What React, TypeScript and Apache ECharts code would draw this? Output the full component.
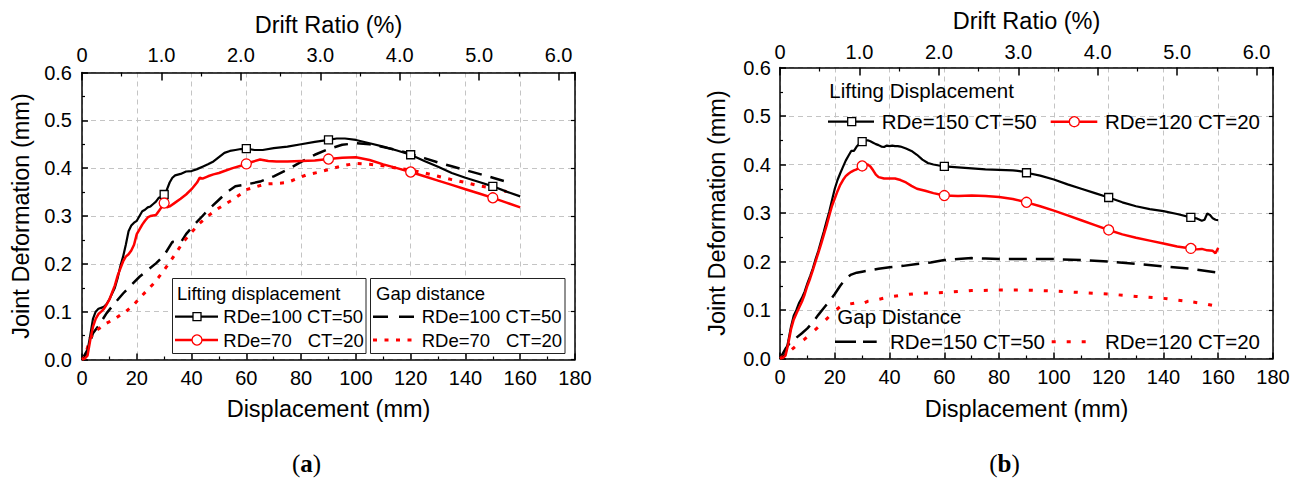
import React, { useEffect, useRef } from "react";
import * as echarts from "echarts";

const FONT = '"Liberation Sans", Arial, Helvetica, sans-serif';
const SERIF = '"Liberation Serif", "Times New Roman", serif';

// ---------- shared axis values ----------
const dispTicks = { min: 0, max: 180, interval: 20 };
const driftMax = 180 / 29; // 1 % drift = 29 mm
const deformTicks = { min: 0, max: 0.6, interval: 0.1 };
const markerX = [30, 60, 90, 120, 150];

// ---------- panel (a) ----------
const aLiftRDe100: number[][] = [
  [0, 0], [1, 0.004], [2, 0.018], [3, 0.05], [4, 0.085], [5, 0.1], [6, 0.106], [7, 0.108], [8, 0.11],
  [9, 0.116], [10, 0.126], [11, 0.138], [12, 0.15], [13, 0.17], [14, 0.195], [15, 0.215], [16, 0.24],
  [17, 0.268], [18, 0.28], [19, 0.286], [20, 0.29], [21, 0.3], [22, 0.31], [23, 0.313], [24, 0.318],
  [25, 0.32], [26, 0.325], [27, 0.33], [28, 0.338], [29, 0.34], [30, 0.345], [31, 0.355], [32, 0.37],
  [33, 0.38], [34, 0.385], [36, 0.388], [38, 0.393], [40, 0.394], [42, 0.398], [44, 0.403], [46, 0.408],
  [48, 0.414], [50, 0.423], [52, 0.432], [54, 0.436], [56, 0.438], [58, 0.44], [60, 0.441], [63, 0.438],
  [66, 0.438], [70, 0.442], [75, 0.445], [80, 0.45], [85, 0.455], [90, 0.459], [93, 0.462], [96, 0.462],
  [100, 0.459], [105, 0.452], [110, 0.445], [115, 0.437], [120, 0.428], [125, 0.415], [130, 0.403],
  [135, 0.39], [140, 0.38], [145, 0.371], [150, 0.362], [155, 0.351], [160, 0.341],
];
const aLiftRDe70: number[][] = [
  [0, 0], [1, 0.002], [2, 0.008], [3, 0.04], [4, 0.068], [5, 0.085], [6, 0.095], [7, 0.1], [8, 0.106],
  [9, 0.115], [10, 0.125], [11, 0.14], [12, 0.155], [13, 0.175], [14, 0.19], [15, 0.205], [16, 0.215],
  [17, 0.22], [18, 0.228], [19, 0.24], [20, 0.262], [21, 0.272], [22, 0.282], [23, 0.29], [24, 0.297],
  [25, 0.3], [26, 0.301], [27, 0.302], [28, 0.31], [29, 0.318], [30, 0.327], [31, 0.318], [32, 0.32],
  [34, 0.328], [36, 0.336], [38, 0.345], [40, 0.356], [42, 0.37], [43, 0.38], [44, 0.378], [46, 0.383],
  [48, 0.387], [50, 0.39], [52, 0.394], [55, 0.4], [58, 0.405], [60, 0.409], [62, 0.413], [65, 0.418],
  [68, 0.415], [71, 0.414], [75, 0.414], [80, 0.415], [85, 0.416], [90, 0.419], [95, 0.422], [100, 0.423],
  [105, 0.417], [110, 0.408], [115, 0.4], [120, 0.392], [125, 0.383], [130, 0.374], [135, 0.365],
  [140, 0.356], [145, 0.347], [150, 0.338], [155, 0.328], [160, 0.318],
];
const aGapRDe100: number[][] = [
  [0, 0], [2, 0.02], [4, 0.055], [6, 0.07], [9, 0.097], [12, 0.118], [15, 0.138], [18, 0.156],
  [21, 0.173], [24, 0.187], [27, 0.201], [30, 0.218], [33, 0.246], [36, 0.244], [38, 0.262], [41, 0.282],
  [44, 0.3], [47, 0.318], [50, 0.334], [53, 0.35], [56, 0.362], [60, 0.366], [65, 0.372], [70, 0.383],
  [75, 0.397], [80, 0.413], [85, 0.428], [90, 0.44], [95, 0.449], [100, 0.452], [105, 0.45], [110, 0.444],
  [115, 0.438], [120, 0.43], [125, 0.421], [130, 0.412], [135, 0.404], [140, 0.396], [145, 0.388],
  [150, 0.38], [156, 0.37],
];
const aGapRDe70: number[][] = [
  [0, 0], [1, 0.005], [3, 0.045], [5, 0.06], [7, 0.068], [9, 0.076], [12, 0.085], [14, 0.093], [16, 0.1],
  [19, 0.115], [21, 0.128], [24, 0.146], [26, 0.158], [28, 0.172], [31, 0.195], [34, 0.22], [37, 0.246],
  [40, 0.266], [43, 0.285], [46, 0.3], [49, 0.313], [52, 0.324], [55, 0.334], [58, 0.346], [60, 0.355],
  [64, 0.362], [67, 0.367], [71, 0.368], [75, 0.37], [78, 0.377], [82, 0.386], [86, 0.391], [90, 0.397],
  [95, 0.405], [100, 0.41], [105, 0.408], [110, 0.405], [115, 0.4], [120, 0.396], [125, 0.39],
  [130, 0.383], [135, 0.376], [140, 0.37], [145, 0.363], [150, 0.358], [155, 0.351],
];

// ---------- panel (b) ----------
const bLiftRDe150: number[][] = [
  [0, 0], [1, 0.002], [2, 0.01], [3, 0.035], [4, 0.065], [5, 0.088], [6, 0.1], [7, 0.115], [8, 0.125],
  [9, 0.138], [10, 0.155], [11, 0.17], [12, 0.186], [13, 0.205], [14, 0.222], [15, 0.242], [16, 0.262],
  [17, 0.283], [18, 0.303], [19, 0.327], [20, 0.35], [21, 0.368], [22, 0.382], [23, 0.395], [24, 0.408],
  [25, 0.418], [26, 0.428], [27, 0.428], [28, 0.437], [29, 0.443], [30, 0.447], [31, 0.449], [32, 0.45],
  [33, 0.448], [34, 0.445], [35, 0.442], [36, 0.44], [37, 0.437], [38, 0.436], [39, 0.439], [40, 0.438],
  [41, 0.439], [42, 0.438], [43, 0.438], [44, 0.437], [46, 0.433], [48, 0.428], [50, 0.42], [52, 0.41],
  [54, 0.403], [56, 0.4], [58, 0.398], [60, 0.396], [65, 0.394], [70, 0.392], [75, 0.39], [80, 0.389],
  [85, 0.388], [88, 0.386], [90, 0.383], [95, 0.377], [100, 0.369], [105, 0.359], [110, 0.35], [115, 0.341],
  [120, 0.332], [125, 0.322], [130, 0.314], [135, 0.308], [140, 0.304], [145, 0.298], [150, 0.291],
  [152, 0.289], [154, 0.284], [155, 0.286], [156, 0.299], [157, 0.296], [158, 0.289], [159, 0.286], [160, 0.285],
];
const bLiftRDe120: number[][] = [
  [0, 0], [1, 0.001], [2, 0.006], [3, 0.03], [4, 0.06], [5, 0.08], [6, 0.093], [7, 0.105], [8, 0.117],
  [9, 0.132], [10, 0.15], [11, 0.165], [12, 0.182], [13, 0.2], [14, 0.218], [15, 0.236], [16, 0.255],
  [17, 0.274], [18, 0.295], [19, 0.315], [20, 0.33], [21, 0.345], [22, 0.358], [23, 0.368], [24, 0.376],
  [25, 0.381], [26, 0.385], [27, 0.388], [28, 0.39], [29, 0.394], [30, 0.397], [31, 0.398], [32, 0.4],
  [33, 0.396], [34, 0.388], [35, 0.379], [36, 0.374], [38, 0.371], [40, 0.371], [42, 0.371], [44, 0.368],
  [46, 0.363], [48, 0.356], [50, 0.35], [53, 0.346], [56, 0.341], [60, 0.336], [65, 0.335], [70, 0.336],
  [75, 0.335], [80, 0.333], [85, 0.329], [90, 0.322], [95, 0.314], [100, 0.305], [105, 0.295], [110, 0.285],
  [115, 0.275], [120, 0.265], [125, 0.256], [130, 0.249], [135, 0.243], [140, 0.237], [145, 0.231],
  [150, 0.227], [152, 0.225], [154, 0.226], [156, 0.223], [158, 0.222], [159, 0.217], [160, 0.228],
];
const bGapRDe150: number[][] = [
  [0, 0], [2, 0.02], [4, 0.035], [6, 0.043], [8, 0.052], [10, 0.062], [12, 0.075], [14, 0.09], [16, 0.104],
  [18, 0.118], [20, 0.133], [22, 0.15], [24, 0.165], [26, 0.173], [28, 0.177], [30, 0.179], [33, 0.182],
  [36, 0.185], [40, 0.188], [45, 0.191], [50, 0.195], [55, 0.198], [60, 0.203], [65, 0.205], [70, 0.207],
  [75, 0.206], [80, 0.205], [90, 0.205], [100, 0.205], [110, 0.203], [120, 0.2], [130, 0.195], [140, 0.19],
  [150, 0.185], [160, 0.177],
];
const bGapRDe120: number[][] = [
  [0, 0], [3, 0.012], [6, 0.027], [9, 0.04], [12, 0.055], [15, 0.07], [18, 0.087], [20, 0.098], [22, 0.107],
  [25, 0.112], [28, 0.115], [30, 0.113], [32, 0.118], [36, 0.122], [40, 0.127], [45, 0.131], [50, 0.134],
  [55, 0.135], [60, 0.136], [70, 0.14], [80, 0.141], [90, 0.141], [100, 0.139], [110, 0.136], [120, 0.133],
  [130, 0.128], [140, 0.124], [150, 0.117], [155, 0.113], [160, 0.107],
];

// ---------- styling helpers ----------
const AX = "#000";
const GRID = "#c4c4c4";
const TICK_FS = 20;
const TITLE_FS = 23.5;

function bottomAxis(gridIndex: number, nameGap: number) {
  return {
    type: "value", gridIndex, position: "bottom", ...dispTicks,
    axisLine: { show: true, onZero: false, lineStyle: { color: AX, width: 1.5 } },
    axisTick: { show: true, inside: true, length: 6, lineStyle: { color: AX, width: 1.5 } },
    minorTick: { show: true, splitNumber: 2, length: 3, lineStyle: { color: AX, width: 1.2 } },
    axisLabel: { margin: 8, fontSize: TICK_FS, color: "#000", fontFamily: FONT },
    splitLine: { show: true, lineStyle: { color: GRID, type: [5, 4], width: 1 } },
    name: "Displacement (mm)", nameLocation: "middle", nameGap, nameMoveOverlap: false,
    nameTextStyle: { fontSize: TITLE_FS, color: "#000", fontFamily: FONT },
  };
}
function topAxis(gridIndex: number, nameGap: number, margin: number) {
  return {
    type: "value", gridIndex, position: "top", min: 0, max: driftMax, interval: 1,
    axisLine: { show: true, onZero: false, lineStyle: { color: AX, width: 1.5 } },
    axisTick: { show: true, inside: true, length: 8, lineStyle: { color: AX, width: 1.5 } },
    minorTick: { show: true, splitNumber: 2, length: 4, lineStyle: { color: AX, width: 1.2 } },
    axisLabel: {
      margin, fontSize: TICK_FS, color: "#000", fontFamily: FONT,
      formatter: (v: number) => (Math.abs(v - Math.round(v)) > 1e-6 ? "" : v === 0 ? "0" : v.toFixed(1)),
    },
    splitLine: { show: false },
    name: "Drift Ratio (%)", nameLocation: "middle", nameGap, nameMoveOverlap: false,
    nameTextStyle: { fontSize: TITLE_FS, color: "#000", fontFamily: FONT },
  };
}
function leftAxis(gridIndex: number, nameGap: number, margin: number) {
  return {
    type: "value", gridIndex, position: "left", ...deformTicks,
    axisLine: { show: true, onZero: false, lineStyle: { color: AX, width: 1.5 } },
    axisTick: { show: true, inside: true, length: 6, lineStyle: { color: AX, width: 1.5 } },
    minorTick: { show: true, splitNumber: 2, length: 3, lineStyle: { color: AX, width: 1.2 } },
    axisLabel: { margin, fontSize: TICK_FS, color: "#000", fontFamily: FONT, formatter: (v: number) => v.toFixed(1) },
    splitLine: { show: true, lineStyle: { color: GRID, type: [5, 4], width: 1 } },
    name: "Joint Deformation (mm)", nameLocation: "middle", nameGap, nameRotate: 90, nameMoveOverlap: false,
    nameTextStyle: { fontSize: TITLE_FS, color: "#000", fontFamily: FONT },
  };
}
function rightAxis(gridIndex: number) {
  return {
    type: "value", gridIndex, position: "right", ...deformTicks,
    axisLine: { show: true, onZero: false, lineStyle: { color: AX, width: 1.5 } },
    axisTick: { show: true, inside: true, length: 4, lineStyle: { color: AX, width: 1.2 } },
    axisLabel: { show: false },
    splitLine: { show: false },
  };
}

const markerSize = (size: number) => (v: number[]) => (markerX.includes(v[0]) ? size : 0);

function liftSeries(data: number[][], xi: number, yi: number, color: string, symbol: string, size: number, width: number) {
  return {
    type: "line", xAxisIndex: xi, yAxisIndex: yi, data,
    symbol, symbolSize: markerSize(size), showSymbol: true,
    lineStyle: { color, width, type: "solid" },
    itemStyle: { color: "#fff", borderColor: color, borderWidth: 1.3 },
    z: 3,
  };
}
function gapSeries(data: number[][], xi: number, yi: number, color: string, dash: number[], width: number) {
  return {
    type: "line", xAxisIndex: xi, yAxisIndex: yi, data, symbol: "none", showSymbol: false,
    lineStyle: { color, width, type: dash, cap: "butt" },
    z: 2,
  };
}

function txt(text: string, x: number, y: number, fs: number) {
  return {
    type: "text", x, y, z: 100,
    style: { text, fill: "#000", fontSize: fs, fontFamily: FONT, align: "left", textAlign: "left", verticalAlign: "middle", textVerticalAlign: "middle" },
  };
}
function seg(x1: number, x2: number, y: number, color: string, width: number, dash?: number[]) {
  return {
    type: "line", z: 100,
    shape: { x1, y1: y, x2, y2: y },
    style: { stroke: color, lineWidth: width, lineDash: dash || null, lineCap: "butt" },
  };
}
function sq(cx: number, cy: number, s: number) {
  return { type: "rect", z: 101, shape: { x: cx - s / 2, y: cy - s / 2, width: s, height: s }, style: { fill: "#fff", stroke: "#000", lineWidth: 1.3 } };
}
function circ(cx: number, cy: number, r: number) {
  return { type: "circle", z: 101, shape: { cx, cy, r }, style: { fill: "#fff", stroke: "#ff0000", lineWidth: 1.3 } };
}
function caption(letter: string, x: number, y: number) {
  return {
    type: "text", x, y, z: 100,
    style: {
      text: `{p|(}{b|${letter}}{p|)}`, align: "center", textAlign: "center", verticalAlign: "middle", textVerticalAlign: "middle",
      rich: {
        p: { fontSize: 25, fontFamily: SERIF, fill: "#000", color: "#000" },
        b: { fontSize: 25, fontFamily: SERIF, fontWeight: "bold", fill: "#000", color: "#000" },
      },
    },
  };
}

const RED = "#ff0000";
const DASH_A = [14, 9];
const DOT_A = [4, 7.5];
const DASH_B = [18, 9];
const DOT_B = [4, 11];

const option: any = {
  animation: false,
  backgroundColor: "#fff",
  grid: [
    { left: 82, top: 72.5, width: 493, height: 287, outerBoundsMode: "none", containLabel: false },
    { left: 780, top: 67.5, width: 493, height: 291, outerBoundsMode: "none", containLabel: false },
  ],
  xAxis: [bottomAxis(0, 37), topAxis(0, 36, 8), bottomAxis(1, 38), topAxis(1, 35, 6)],
  yAxis: [leftAxis(0, 49, 10), rightAxis(0), leftAxis(1, 51, 9), rightAxis(1)],
  series: [
    gapSeries(aGapRDe100, 0, 0, "#000", DASH_A, 2.5),
    gapSeries(aGapRDe70, 0, 0, RED, DOT_A, 3),
    liftSeries(aLiftRDe100, 0, 0, "#000", "rect", 8, 2.2),
    liftSeries(aLiftRDe70, 0, 0, RED, "circle", 10, 2.5),
    gapSeries(bGapRDe150, 2, 2, "#000", DASH_B, 2.5),
    gapSeries(bGapRDe120, 2, 2, RED, DOT_B, 3),
    liftSeries(bLiftRDe150, 2, 2, "#000", "rect", 8, 2.2),
    liftSeries(bLiftRDe120, 2, 2, RED, "circle", 10, 2.5),
  ],
  graphic: [
    // panel (a) legend boxes
    { type: "rect", z: 99, shape: { x: 172.5, y: 278.5, width: 193.5, height: 75 }, style: { fill: "#fff", stroke: "#222", lineWidth: 1 } },
    { type: "rect", z: 99, shape: { x: 370.5, y: 278.5, width: 194.5, height: 75 }, style: { fill: "#fff", stroke: "#222", lineWidth: 1 } },
    txt("Lifting displacement", 177, 293, 18.5),
    seg(175, 218, 316.7, "#000", 2.2), sq(197, 316.7, 8), txt("RDe=100 CT=50", 223.3, 316.7, 18.5),
    seg(175, 218, 340, RED, 2.5), circ(197, 340, 5), txt("RDe=70", 223.3, 340, 18.5), txt("CT=20", 307.7, 340, 18.5),
    txt("Gap distance", 376, 293, 18.5),
    seg(373, 415, 316.7, "#000", 2.5, [15, 11]), txt("RDe=100 CT=50", 421.7, 316.7, 18.5),
    seg(373, 415, 340, RED, 3, DOT_A), txt("RDe=70", 421.7, 340, 18.5), txt("CT=20", 506, 340, 18.5),
    // panel (b) legends
    txt("Lifting Displacement", 829.3, 90.7, 20.5),
    seg(828, 874, 121.7, "#000", 2.2), sq(851.7, 121.7, 8), txt("RDe=150 CT=50", 881.7, 121.7, 20.5),
    seg(1050.7, 1097.3, 121.7, RED, 2.5), circ(1074.3, 121.7, 5), txt("RDe=120 CT=20", 1105, 121.7, 20.5),
    txt("Gap Distance", 837.3, 316.7, 20.5),
    seg(835, 876.7, 341.7, "#000", 2.5, [21, 7]), txt("RDe=150 CT=50", 890, 341.7, 20.5),
    seg(1051.7, 1093.3, 341.7, RED, 3, DOT_B), txt("RDe=120 CT=20", 1105, 341.7, 20.5),
    // captions
    caption("a", 306.5, 463),
    caption("b", 1004.5, 463),
  ],
};

export default function App() {
  const ref = useRef<HTMLDivElement>(null);
  useEffect(() => {
    const chart = echarts.init(ref.current as HTMLDivElement, null, { renderer: "svg", width: 1304, height: 479 });
    chart.setOption(option);
    return () => chart.dispose();
  }, []);
  return (
    <div
      ref={ref}
      style={{ position: "fixed", left: 0, top: 0, width: 1304, height: 479, background: "#fff" }}
    />
  );
}
